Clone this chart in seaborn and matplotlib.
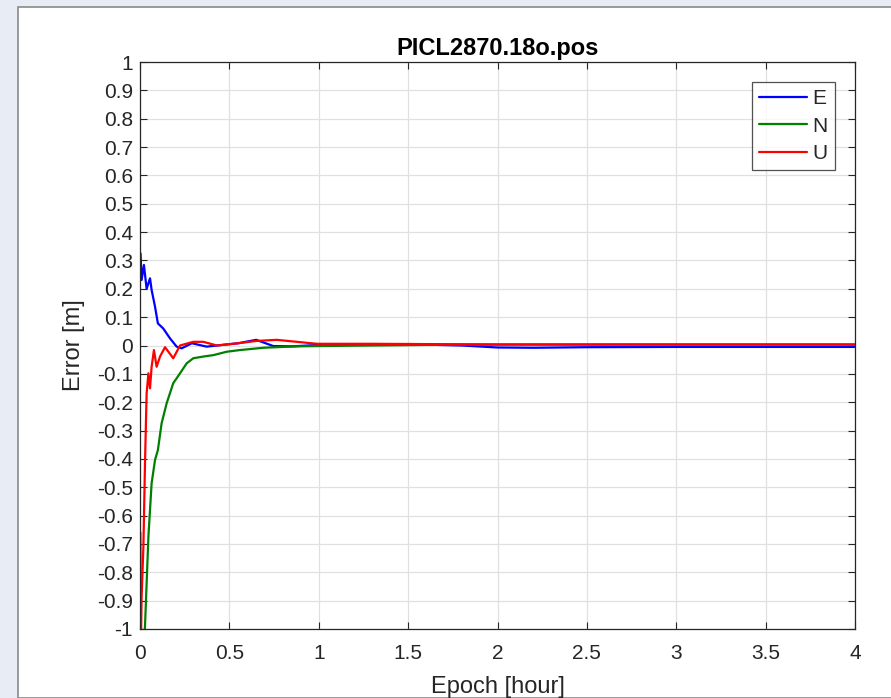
import numpy as np
import pandas as pd
import matplotlib
matplotlib.use("Agg")
import matplotlib.pyplot as plt
import seaborn as sns
from matplotlib.patches import Rectangle

sns.set_theme(style="white")
plt.rcParams['font.family'] = ['Liberation Sans', 'DejaVu Sans']

title = "PICL2870.18o.pos"
xlabel = "Epoch [hour]"
ylabel = "Error [m]"

# E component
e_x = [0.003, 0.009, 0.022, 0.037, 0.056, 0.065, 0.084, 0.10, 0.13, 0.168, 0.205, 0.233,
       0.29, 0.373, 0.43, 0.55, 0.65, 0.746, 0.85, 1.0, 1.3, 1.6, 1.8, 2.0, 2.2, 2.5, 3.0, 3.5, 4.0]
e_y = [0.325, 0.231, 0.284, 0.20, 0.237, 0.196, 0.137, 0.078, 0.06, 0.025, -0.004, -0.01,
       0.008, -0.004, 0.0, 0.008, 0.02, -0.002, -0.003, 0.002, 0.004, 0.003, 0.0, -0.007, -0.008, -0.006, -0.005, -0.005, -0.005]

# N component
n_x = [0.002, 0.006, 0.02, 0.028, 0.047, 0.065, 0.084, 0.10, 0.121, 0.149, 0.186, 0.224,
       0.261, 0.298, 0.354, 0.41, 0.485, 0.56, 0.69, 0.877, 1.0, 1.3, 1.6, 2.0, 2.5, 3.0, 3.5, 4.0]
n_y = [-0.66, -1.2, -1.05, -0.99, -0.674, -0.486, -0.404, -0.369, -0.274, -0.204, -0.133, -0.098,
       -0.063, -0.045, -0.039, -0.034, -0.022, -0.016, -0.008, -0.003, -0.002, 0.0, 0.002, 0.003, 0.003, 0.003, 0.003, 0.003]

# U component
u_x = [0.0, 0.009, 0.019, 0.028, 0.037, 0.047, 0.056, 0.065, 0.078, 0.093, 0.112, 0.14,
       0.186, 0.224, 0.298, 0.354, 0.43, 0.55, 0.65, 0.765, 0.877, 0.99, 1.3, 1.6, 2.0, 2.5, 3.0, 3.5, 4.0]
u_y = [-1.3, -0.886, -0.71, -0.415, -0.17, -0.098, -0.151, -0.075, -0.016, -0.075, -0.039, -0.006,
       -0.045, 0.0, 0.013, 0.013, 0.0, 0.008, 0.016, 0.02, 0.013, 0.006, 0.006, 0.005, 0.004, 0.004, 0.004, 0.004, 0.004]

df = pd.concat([
    pd.DataFrame({"x": e_x, "y": e_y, "comp": "E"}),
    pd.DataFrame({"x": n_x, "y": n_y, "comp": "N"}),
    pd.DataFrame({"x": u_x, "y": u_y, "comp": "U"}),
])

fig = plt.figure(figsize=(8.91, 6.98), dpi=100, facecolor="#e8edf5")
panel = Rectangle((18 / 891, 0), 1, 1 - 7 / 698, transform=fig.transFigure,
                  facecolor="white", edgecolor="#8a8a8a", linewidth=1.2, zorder=-10)
fig.add_artist(panel)
ax = fig.add_axes([140 / 891, 1 - 629 / 698, (855 - 140) / 891, (629 - 62) / 698])
ax.set_zorder(5)

palette = {"E": "#0000ff", "N": "#008000", "U": "#ff0000"}
sns.lineplot(data=df, x="x", y="y", hue="comp", palette=palette, ax=ax,
             linewidth=1.6, estimator=None, sort=False)

ax.set_xlim(0, 4)
ax.set_ylim(-1, 1)
ax.set_xticks(np.arange(0, 4.01, 0.5))
ax.set_xticklabels(["0", "0.5", "1", "1.5", "2", "2.5", "3", "3.5", "4"])
yt = np.round(np.arange(-1, 1.001, 0.1), 1)
ax.set_yticks(yt)
ax.set_yticklabels([("%g" % v) if abs(v) > 1e-9 else "0" for v in yt])
ax.grid(True, color="#e0e0e0", linewidth=0.9)
ax.tick_params(direction="in", length=5, width=0.8, colors="#262626", labelsize=15,
               top=True, right=True, bottom=True, left=True)
ax.tick_params(axis="x", pad=11)
ax.tick_params(axis="y", pad=5)
for s in ax.spines.values():
    s.set_color("#262626")
    s.set_linewidth(0.9)
ax.set_xlabel(xlabel, fontsize=17, color="#262626", labelpad=9)
ax.set_ylabel(ylabel, fontsize=17, color="#262626", labelpad=9)
ax.set_title(title, fontsize=17, fontweight="bold", color="black", pad=5)

leg = ax.legend(loc="upper right", bbox_to_anchor=(835 / 891, 1 - 82 / 698),
                bbox_transform=fig.transFigure, fontsize=15, frameon=True, fancybox=False,
                edgecolor="#262626", handlelength=2.3, handletextpad=0.25, borderpad=0.35,
                borderaxespad=0, labelspacing=0.4)
leg.get_frame().set_linewidth(0.9)

fig.savefig("out.png", dpi=100, facecolor=fig.get_facecolor())
